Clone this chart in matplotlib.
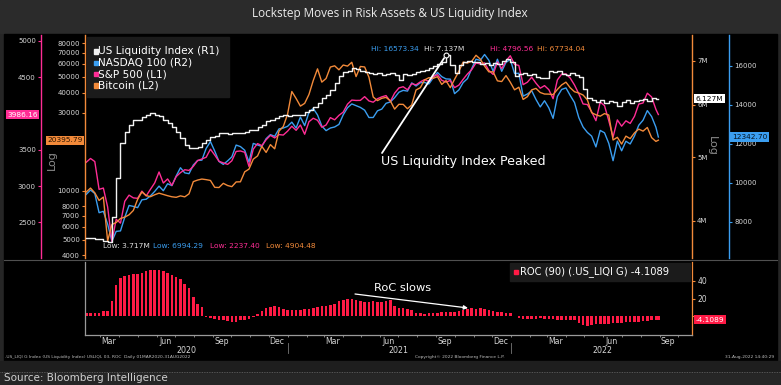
import matplotlib
matplotlib.use('Agg')
import matplotlib.pyplot as plt
import matplotlib.dates as mdates
import numpy as np
import pandas as pd
from matplotlib.patches import Rectangle
from matplotlib.ticker import FuncFormatter, NullLocator, FixedLocator

# ---------------- data (weekly) ----------------
dates = list(pd.date_range('2020-02-07', '2022-08-26', freq='7D')) + [pd.Timestamp('2022-08-30')]

sp500 = [3327.71, 3380.16, 3337.75, 2954.22, 2972.37, 2711.02, 2237.40, 2541.47, 2488.65, 2789.82,
         2874.56, 2836.74, 2830.71, 2929.80, 2863.70, 2955.45, 3044.31, 3193.93, 3041.31, 3097.74,
         3009.05, 3130.01, 3185.04, 3224.73, 3215.63, 3271.12, 3351.28, 3372.85, 3397.16, 3508.01,
         3426.96, 3340.97, 3319.47, 3298.46, 3348.44, 3477.14, 3483.81, 3465.39, 3269.96, 3509.44,
         3585.15, 3557.54, 3638.35, 3699.12, 3663.46, 3709.41, 3703.06, 3756.07, 3824.68, 3768.25,
         3841.47, 3714.24, 3886.83, 3934.83, 3906.71, 3811.15, 3841.94, 3943.34, 3913.10, 3974.54,
         4019.87, 4128.80, 4185.47, 4180.17, 4181.17, 4232.60, 4173.85, 4155.86, 4204.11, 4229.89,
         4247.44, 4166.45, 4280.70, 4352.34, 4369.55, 4327.16, 4411.79, 4395.26, 4436.52, 4468.00,
         4441.67, 4509.37, 4535.43, 4458.58, 4432.99, 4455.48, 4357.04, 4391.34, 4471.37, 4544.90,
         4605.38, 4697.53, 4682.85, 4697.96, 4594.62, 4538.43, 4712.02, 4620.64, 4725.79, 4796.56,
         4677.03, 4662.85, 4397.94, 4431.85, 4500.53, 4418.64, 4348.87, 4384.65, 4328.87, 4204.31,
         4463.12, 4543.06, 4545.86, 4488.28, 4392.59, 4271.78, 4131.93, 4123.34, 4023.89, 3901.36,
         4158.24, 4108.54, 3900.86, 3674.84, 3911.74, 3825.33, 3899.38, 3863.16, 3961.63, 4130.29,
         4145.19, 4280.15, 4228.48, 4057.66, 3986.16]

ndx100 = [9401, 9623, 9446, 8462, 8531, 7875, 6994.29, 7502, 7528, 8230,
          8833, 8784, 8719, 9122, 9152, 9325, 9556, 9824, 9589, 9947,
          9849, 10342, 10767, 10504, 10462, 10905, 11139, 11155, 11758, 12110,
          11622, 11087, 10939, 11117, 11326, 11929, 11852, 11666, 11052, 12014,
          11937, 11856, 12258, 12465, 12378, 12755, 12804, 12888, 13105, 12803,
          13366, 12925, 13611, 13807, 13474, 12909, 12669, 12804, 12858, 12989,
          13480, 13845, 14041, 13951, 13861, 13720, 13343, 13344, 13687, 13774,
          14070, 14143, 14360, 14640, 14735, 14697, 15118, 14959, 15127, 15140,
          15062, 15374, 15653, 15438, 15322, 15309, 14567, 14755, 15134, 15336,
          15850, 16331, 16273, 16573.34, 16277, 15712, 16331, 15714, 16167, 16320,
          15600, 15611, 14438, 14547, 14716, 14269, 13886, 14202, 13838, 13300,
          14420, 14782, 14861, 14470, 14110, 13336, 12855, 12578, 12387, 11835,
          12681, 12561, 12016, 11128, 12133, 11636, 12125, 11987, 12397, 12947,
          13206, 13696, 13393, 12846, 12342.70]

bitcoin = [9800, 10360, 9690, 8700, 9120, 4904.48, 6190, 6370, 6740, 6870,
           7100, 7550, 8830, 9800, 9320, 9170, 9430, 9640, 9470, 9300,
           9160, 9090, 9280, 9150, 9550, 11350, 11600, 11770, 11670, 11540,
           10470, 10440, 11080, 10740, 10570, 11300, 11320, 13030, 13550, 15590,
           16320, 18680, 17150, 19150, 18050, 23150, 24710, 29370, 40580, 36770,
           33010, 34320, 38900, 47400, 55890, 46340, 48780, 57330, 58350, 55140,
           59000, 58100, 61330, 50100, 57800, 57400, 49700, 37530, 35680, 36860,
           37340, 35560, 31640, 33860, 33820, 31800, 33590, 41460, 42820, 47820,
           49320, 48900, 50040, 44860, 47300, 42840, 48230, 53970, 61530, 60690,
           62210, 67734.04, 64160, 58120, 53570, 53600, 47180, 46700, 50800, 46300,
           41560, 43100, 36280, 37710, 41500, 42410, 40000, 39150, 39100, 38810,
           41790, 44530, 46310, 42760, 40430, 39720, 38600, 36040, 30080, 29200,
           28630, 29700, 29090, 20450, 21230, 19300, 21590, 20840, 22610, 23840,
           23180, 24400, 21140, 20040, 20395.79]

# US Liquidity Index, in millions ("M" as labelled on the chart)
liquidity = [3.77, 3.77, 3.76, 3.75, 3.73, 3.717, 4.05, 4.65, 5.25, 5.45,
             5.60, 5.69, 5.70, 5.75, 5.80, 5.84, 5.80, 5.77, 5.70, 5.64,
             5.55, 5.45, 5.35, 5.22, 5.16, 5.16, 5.18, 5.25, 5.31, 5.36,
             5.38, 5.43, 5.44, 5.42, 5.43, 5.44, 5.44, 5.45, 5.50, 5.50,
             5.56, 5.59, 5.67, 5.69, 5.73, 5.77, 5.79, 5.78, 5.79, 5.80,
             5.80, 5.85, 5.89, 5.95, 6.04, 6.15, 6.20, 6.32, 6.47, 6.64,
             6.72, 6.75, 6.82, 6.80, 6.75, 6.72, 6.70, 6.68, 6.70, 6.66,
             6.68, 6.70, 6.66, 6.55, 6.68, 6.66, 6.68, 6.72, 6.75, 6.78,
             6.82, 6.87, 6.93, 6.98, 7.137, 6.90, 6.70, 6.90, 6.96, 6.99,
             6.98, 6.97, 6.92, 6.94, 6.90, 6.95, 6.92, 6.99, 7.04, 6.98,
             6.64, 6.68, 6.70, 6.66, 6.68, 6.62, 6.58, 6.60, 6.75, 6.72,
             6.76, 6.68, 6.66, 6.70, 6.66, 6.62, 6.35, 6.15, 6.10, 6.06,
             6.10, 6.04, 6.08, 6.05, 5.98, 6.06, 6.10, 6.04, 6.08, 6.10,
             6.12, 6.08, 6.14, 6.12, 6.127]

roc90 = [4, 4, 3, 3, 6, 6, 17, 35, 43, 46,
         47, 48, 48, 49, 51, 52, 53, 52, 51, 49,
         47, 44, 42, 37, 32, 22, 14, 10, -1, -2,
         -3, -4, -4, -6, -7, -7, -5, -4, -3, -1,
         2, 6, 9, 10, 11, 10, 8, 7, 7, 7,
         7, 8, 8, 9, 10, 11, 12, 13, 14, 17,
         18, 19, 20, 18, 17, 16, 16, 17, 16, 16,
         17, 18, 12, 9, 9, 8, 7, 4, 3, 2,
         3, 3, 4, 5, 5, 5, 5, 6, 7, 8,
         9, 8, 9, 8, 7, 6, 5, 5, 4, 3,
         0, -2, -3, -3, -3, -3, -2, -3, -3, -3,
         -4, -4, -4, -5, -5, -8, -10, -11, -10, -9,
         -9, -9, -9, -8, -8, -8, -7, -7, -7, -7,
         -6, -6, -5, -5, -4.1089]

month_labels = ['Mar', 'Jun', 'Sep', 'Dec', 'Mar', 'Jun', 'Sep', 'Dec', 'Mar', 'Jun', 'Sep']
month_pos = ['2020-03-15', '2020-06-15', '2020-09-15', '2020-12-15', '2021-03-15', '2021-06-15',
             '2021-09-15', '2021-12-15', '2022-03-15', '2022-06-15', '2022-09-15']
year_labels = ['2020', '2021', '2022']
year_pos = ['2020-07-20', '2021-07-02', '2022-05-30']
year_breaks = ['2021-01-01', '2022-01-01']

# ---------------- styling ----------------
C_WHITE = '#f2f2f2'
C_BLUE = '#3b9ef0'
C_PINK = '#ff2d95'
C_ORANGE = '#f28a3a'
C_RED = '#ff1a45'
C_TICK = '#d6d6d6'

W, H = 781, 385
fig = plt.figure(figsize=(W / 100, H / 100), dpi=100, facecolor='#262626')


def rect(x0, y0, x1, y1):
    return [x0 / W, 1 - y1 / H, (x1 - x0) / W, (y1 - y0) / H]


def dn(d):
    return mdates.date2num(pd.Timestamp(d))


bg = fig.add_axes([0, 0, 1, 1], zorder=0)
bg.set_xlim(0, W); bg.set_ylim(H, 0); bg.axis('off')
bg.add_patch(Rectangle((0, 0), W, 33, color='#2b2b2b'))
bg.add_patch(Rectangle((4, 34), 773, 327, color='black'))
bg.add_patch(Rectangle((0, 361), W, 11, color='#1e1e1e'))
bg.plot([4, 777], [259.5, 259.5], color='#505050', lw=0.8)
bg.plot([0, W], [372, 372], color='#6a6a6a', lw=0.6, ls=(0, (1, 1)))
bg.text(390, 14, 'Lockstep Moves in Risk Assets & US Liquidity Index', ha='center', va='center',
        color='#ececec', fontsize=8.5, family='Open Sans')
bg.text(4, 378, 'Source: Bloomberg Intelligence', ha='left', va='center', color='#d0d0d0', fontsize=7.5)
bg.text(52, 160, 'Log', rotation=90, ha='center', va='center', color='#8c8c8c', fontsize=8)
bg.text(712, 146, 'Log', rotation=-90, ha='center', va='center', color='#8c8c8c', fontsize=8)
# footer
bg.text(5, 357, '.US_LIQI G Index (US Liquidity Index) USLIQI, 03, ROC  Daily 01MAR2020-31AUG2022',
        fontsize=3.2, color='#bdbdbd', va='center')
bg.text(415, 357, 'Copyright\u00a9 2022 Bloomberg Finance L.P.', fontsize=3.2, color='#bdbdbd', va='center')
bg.text(774, 357, '31-Aug-2022 14:40:29', fontsize=3.2, color='#bdbdbd', va='center', ha='right')

R = rect(85, 35, 692, 258)
xmin, xmax = pd.Timestamp('2020-02-05'), pd.Timestamp('2022-10-24')

ax_ndx = fig.add_axes(R, zorder=2)
ax_sp = fig.add_axes(R, zorder=3, sharex=ax_ndx)
ax_btc = fig.add_axes(R, zorder=4, sharex=ax_ndx)
ax_liq = fig.add_axes(R, zorder=5, sharex=ax_ndx)


def style(ax, side, pos, color, ticks, fmt, log=False):
    ax.set_facecolor('none')
    if log:
        ax.set_yscale('log')
    for s in ax.spines.values():
        s.set_visible(False)
    sp = ax.spines[side]
    sp.set_visible(True); sp.set_color(color); sp.set_linewidth(1.0)
    sp.set_position(('axes', pos))
    ax.yaxis.set_ticks_position(side)
    ax.yaxis.set_major_locator(FixedLocator(ticks))
    ax.yaxis.set_minor_locator(NullLocator())
    ax.yaxis.set_major_formatter(FuncFormatter(fmt))
    ax.tick_params(axis='y', which='both', colors=color, labelcolor=C_TICK, labelsize=5,
                   length=2.5, width=0.8, pad=1.2)
    ax.tick_params(axis='x', which='both', bottom=False, labelbottom=False, top=False)


style(ax_sp, 'left', -44 / 607, C_PINK, [2500, 3000, 3500, 4500, 5000], lambda v, p: f'{v:.0f}')
ax_sp.set_ylim(2007.7, 5082.7)
style(ax_btc, 'left', 0.0, C_ORANGE,
      [4000, 5000, 6000, 7000, 8000, 10000, 30000, 40000, 50000, 60000, 70000, 80000],
      lambda v, p: f'{v:.0f}', log=True)
ax_btc.set_ylim(3855, 90200)
style(ax_liq, 'right', 1.0, C_ORANGE, [4, 5, 6, 7], lambda v, p: f'{v:.0f}M', log=True)
ax_liq.set_ylim(3.513, 7.659)
style(ax_ndx, 'right', 644 / 607, C_BLUE, [8000, 10000, 12000, 14000, 16000], lambda v, p: f'{v:.0f}')
ax_ndx.set_ylim(6138, 17574)

xd = [dn(d) for d in dates]
ax_ndx.plot(xd, ndx100, color=C_BLUE, lw=1.0)
ax_sp.plot(xd, sp500, color=C_PINK, lw=1.0)
ax_btc.plot(xd, bitcoin, color=C_ORANGE, lw=1.0)
ax_liq.plot(xd, liquidity, color=C_WHITE, lw=1.0, drawstyle='steps-post')
ax_ndx.set_xlim(dn(xmin), dn(xmax))

# peak marker + annotation line
ipk = int(np.argmax(liquidity))
ax_liq.plot(xd[ipk], liquidity[ipk], 'o', mfc='black', mec='white', ms=3.5, mew=0.8, zorder=6)
ax_liq.annotate('', xy=(xd[ipk], liquidity[ipk]), xytext=(382, H - 153), textcoords='figure pixels',
                arrowprops=dict(arrowstyle='-', color='white', lw=1.3, shrinkA=0, shrinkB=2.5))

# last value tags
tagkw = dict(va='center', fontsize=5.3, annotation_clip=False)
ax_sp.annotate(f'{sp500[-1]:.2f}', xy=(-45 / 607, sp500[-1]), xycoords=ax_sp.get_yaxis_transform(),
               xytext=(-1.5, 0), textcoords='offset points', ha='right', color='white',
               bbox=dict(boxstyle='square,pad=0.2', fc=C_PINK, ec='none'), **tagkw)
ax_btc.annotate(f'{bitcoin[-1]:.2f}', xy=(0, bitcoin[-1]), xycoords=ax_btc.get_yaxis_transform(),
                xytext=(-1.5, 0), textcoords='offset points', ha='right', color='#2a1400',
                bbox=dict(boxstyle='square,pad=0.2', fc=C_ORANGE, ec='none'), **tagkw)
ax_liq.annotate(f'{liquidity[-1]:.3f}M', xy=(1.0, liquidity[-1]), xycoords=ax_liq.get_yaxis_transform(),
                xytext=(2.5, 0), textcoords='offset points', ha='left', color='black',
                bbox=dict(boxstyle='square,pad=0.2', fc='white', ec='none'), **tagkw)
ax_ndx.annotate(f'{ndx100[-1]:.2f}', xy=(644 / 607, ndx100[-1]), xycoords=ax_ndx.get_yaxis_transform(),
                xytext=(2.0, 0), textcoords='offset points', ha='left', color='#04121f',
                bbox=dict(boxstyle='square,pad=0.25', fc=C_BLUE, ec='none'), **tagkw)

# ---------------- ROC panel ----------------
ax_roc = fig.add_axes(rect(85, 262, 692, 335), zorder=3)
ax_roc.set_facecolor('none')
ax_roc.bar(xd, roc90, width=4.2, color=C_RED, linewidth=0)
ax_roc.set_xlim(dn(xmin), dn(xmax))
ax_roc.set_ylim(-21.7, 61.7)
ax_roc.spines['top'].set_visible(False)
ax_roc.spines['left'].set_color('#9a9a9a'); ax_roc.spines['bottom'].set_color('#9a9a9a')
ax_roc.spines['right'].set_color(C_ORANGE)
for s in ['left', 'bottom', 'right']:
    ax_roc.spines[s].set_linewidth(0.9)
ax_roc.yaxis.set_ticks_position('right')
ax_roc.yaxis.set_major_locator(FixedLocator([0, 20, 40]))
ax_roc.yaxis.set_major_formatter(FuncFormatter(lambda v, p: '' if v == 0 else f'{v:.0f}'))
ax_roc.tick_params(axis='y', colors=C_ORANGE, labelcolor=C_TICK, labelsize=5.5, length=2.5, width=0.8, pad=1.2)
ax_roc.set_xticks([dn(d) for d in month_pos])
ax_roc.set_xticklabels(month_labels)
ax_roc.set_xticks([dn(d) for d in pd.date_range('2020-03-01', '2022-10-01', freq='MS')], minor=True)
ax_roc.tick_params(axis='x', which='major', length=0, labelsize=5.6, labelcolor=C_TICK, pad=1.3)
ax_roc.tick_params(axis='x', which='minor', length=1.5, color='#9a9a9a', width=0.6)
ax_roc.annotate(f'{roc90[-1]:.4f}', xy=(1.0, roc90[-1]), xycoords=ax_roc.get_yaxis_transform(),
                xytext=(2.5, 0), textcoords='offset points', ha='left', color='white',
                bbox=dict(boxstyle='square,pad=0.2', fc=C_RED, ec='none'), **tagkw)
for yl, yp in zip(year_labels, year_pos):
    ax_roc.annotate(yl, xy=(dn(yp), 0), xycoords=ax_roc.get_xaxis_transform(),
                    xytext=(0, -11), textcoords='offset points', ha='center', va='center',
                    fontsize=5.7, color=C_TICK, annotation_clip=False)
for yb in year_breaks:
    ax_roc.plot([dn(yb)] * 2, [-0.11, -0.24], transform=ax_roc.get_xaxis_transform(),
                color='#777777', lw=0.6, clip_on=False)

# ---------------- overlay texts ----------------
top = fig.add_axes([0, 0, 1, 1], zorder=10)
top.set_xlim(0, W); top.set_ylim(H, 0); top.axis('off')

# legend
top.add_patch(Rectangle((87, 37), 142, 60, color='#1b1b1b'))
leg = [('US Liquidity Index (R1)', C_WHITE), ('NASDAQ 100 (R2)', C_BLUE),
       ('S&P 500 (L1)', C_PINK), ('Bitcoin (L2)', C_ORANGE)]
for k, (lab, col) in enumerate(leg):
    yy = 51.5 + k * 11.3
    top.add_patch(Rectangle((93.5, yy - 2.2), 4.4, 4.4, color=col))
    top.text(98.5, yy, lab, color='white', fontsize=7.6, va='center', ha='left')

# Hi / Low labels
fs_hl = 5.4
for x, t, c in [(103, 'Low: 3.717M', '#dddddd'), (153, 'Low: 6994.29', C_BLUE),
                (210, 'Low: 2237.40', C_PINK), (266, 'Low: 4904.48', C_ORANGE)]:
    top.text(x, 246, t, color=c, fontsize=fs_hl, va='center', ha='left')
for x, t, c in [(371, 'Hi: 16573.34', C_BLUE), (424, 'Hi: 7.137M', '#dddddd'),
                (490, 'Hi: 4796.56', C_PINK), (537, 'Hi: 67734.04', C_ORANGE)]:
    top.text(x, 49, t, color=c, fontsize=fs_hl, va='center', ha='left')

top.text(381, 162, 'US Liquidity Index Peaked', color='white', fontsize=9.1, va='center', ha='left')

# ROC legend and annotation
top.add_patch(Rectangle((510, 263), 180, 18, color='#1b1b1b'))
top.add_patch(Rectangle((514, 270), 4, 4, color=C_RED))
top.text(519.5, 272, 'ROC (90) (.US_LIQI G) -4.1089', color='white', fontsize=7.2, va='center', ha='left')
top.text(374, 288, 'RoC slows', color='white', fontsize=8.2, va='center', ha='left')
top.annotate('', xy=(468, 308), xytext=(355, 294),
             arrowprops=dict(arrowstyle='-|>', color='white', lw=0.9, mutation_scale=6,
                             shrinkA=0, shrinkB=0))

fig.savefig('out.png', dpi=100, facecolor=fig.get_facecolor())
